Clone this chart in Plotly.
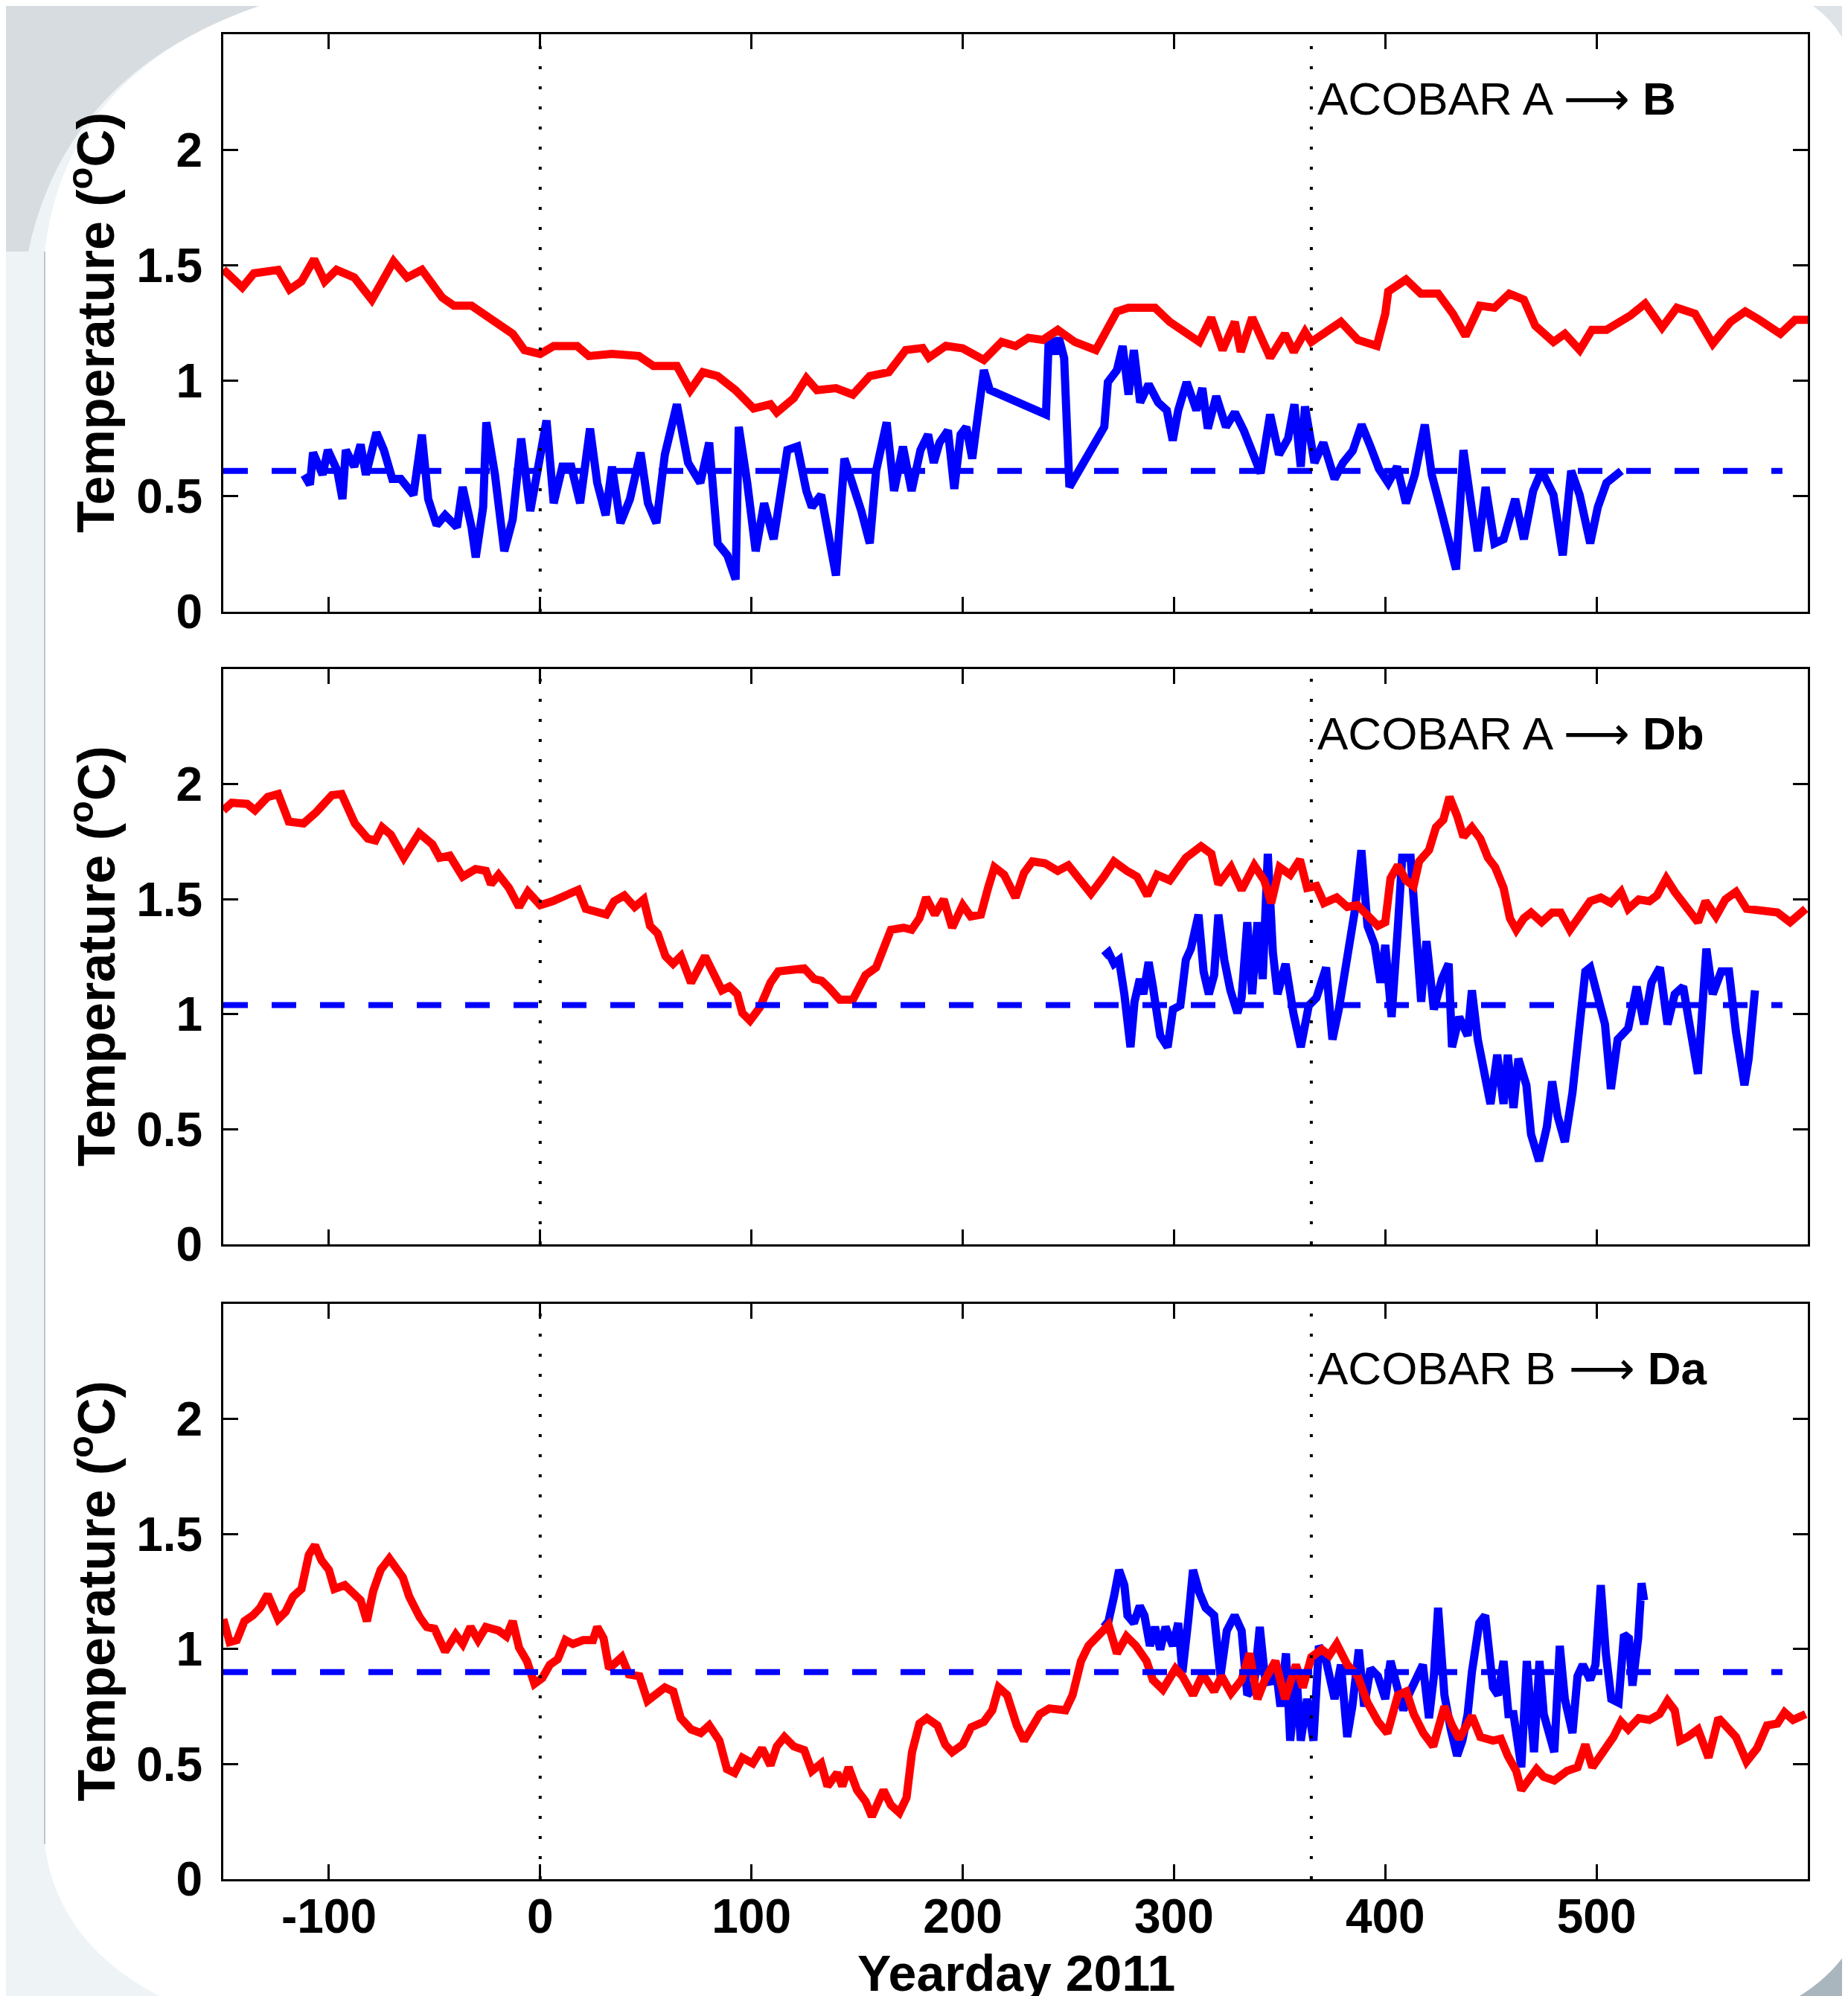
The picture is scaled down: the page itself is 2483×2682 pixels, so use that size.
import plotly.graph_objects as go

# ---------------- data ----------------
P1_RED_X = [-150,-141,-135.5,-124,-118.6,-113,-107,-102,-96.4,-88,-79.7,-69.4,-63,-56,-46.4,-40.8,-32.5,-27,-21.4,-13,-7.5,0,6.4,17.5,23,34,46.7,53.6,64.7,71,77,84,92.5,101,109,112,120,126,131,140,148,156,165,173,181,184,192,200,210,218.4,225,231,238,245,253,263,273,278.5,291,298,303.6,312,317.6,323,328.8,331.6,337,345.5,352.5,356.7,362,365,379,387,396,400,401.4,409.8,416.8,425,432,438,444.7,451.7,458.7,465.6,471,479.6,485,492,497.8,504.7,516,523,531,538,546.6,555,563.4,570.4,577,587,594,600]
P1_RED_Y = [1.482,1.404,1.465,1.48,1.395,1.43,1.526,1.43,1.48,1.447,1.35,1.517,1.447,1.48,1.36,1.325,1.325,1.29,1.255,1.203,1.133,1.116,1.15,1.15,1.107,1.116,1.107,1.064,1.064,0.959,1.037,1.02,0.959,0.88,0.898,0.863,0.924,1.011,0.959,0.968,0.94,1.02,1.037,1.133,1.142,1.1,1.151,1.14,1.09,1.168,1.15,1.186,1.177,1.22,1.168,1.133,1.30,1.316,1.316,1.255,1.22,1.168,1.273,1.133,1.255,1.125,1.273,1.10,1.203,1.125,1.212,1.168,1.255,1.177,1.151,1.29,1.386,1.438,1.377,1.377,1.29,1.194,1.325,1.316,1.377,1.351,1.238,1.168,1.203,1.133,1.22,1.22,1.282,1.334,1.23,1.316,1.29,1.16,1.255,1.30,1.264,1.203,1.264,1.264]

P1_BLUE_X = [-111.7,-109,-107.5,-103,-100.5,-96,-93.6,-92,-88,-85,-82.5,-77.5,-74,-70,-66,-60,-56,-53,-49,-45,-39.4,-36.7,-32.5,-30.5,-27,-25.5,-21.4,-17,-13,-9,-4.7,0.8,3,6.4,10.5,14.7,18.9,23.6,27,31,34,38,42.5,47.5,51,55,59,64.7,70,75.8,80,84,88.6,92.5,94,98,102,106,110.5,117,121.7,126,128.6,133,137,140,144,148,152,156,159,164,167.5,171.7,175.8,180,183.6,186.3,189,193,196,199,201.7,204.5,207,210,212.8,239.4,240.8,243.6,245.5,248,250.5,267,268.7,273,275.7,278.5,281,284,288,292.5,296.6,299.4,302,306,310.6,313.4,316,320,324.6,328.8,333,337,341,345.5,349.7,354,357,360,362,366.5,370.7,376,380,384.6,388.8,393,397,401.4,405.6,409.8,414,418.7,422,426.5,430.7,433.5,437,440.5,443.8,447.5,451.7,456,461.5,465.6,470,474,479.6,484,488,492,497,500.6,504.7,511.7]
P1_BLUE_Y = [0.593,0.55,0.689,0.593,0.70,0.61,0.488,0.70,0.628,0.724,0.593,0.776,0.70,0.575,0.575,0.506,0.767,0.488,0.375,0.418,0.366,0.54,0.366,0.235,0.453,0.82,0.593,0.262,0.40,0.75,0.436,0.732,0.828,0.47,0.628,0.628,0.47,0.793,0.558,0.418,0.628,0.384,0.488,0.689,0.47,0.384,0.68,0.898,0.645,0.558,0.732,0.296,0.244,0.14,0.80,0.558,0.262,0.47,0.314,0.70,0.715,0.523,0.453,0.506,0.331,0.157,0.663,0.558,0.436,0.296,0.61,0.82,0.523,0.715,0.523,0.70,0.767,0.645,0.732,0.785,0.532,0.767,0.80,0.663,0.872,1.046,0.96,0.854,1.203,1.116,1.186,1.098,0.54,0.80,0.994,1.046,1.15,0.94,1.133,0.906,0.985,0.906,0.872,0.741,0.872,0.994,0.872,0.968,0.793,0.933,0.80,0.863,0.785,0.697,0.60,0.854,0.68,0.75,0.898,0.628,0.889,0.645,0.732,0.575,0.645,0.697,0.81,0.715,0.619,0.558,0.628,0.47,0.593,0.81,0.593,0.436,0.296,0.183,0.70,0.453,0.262,0.54,0.296,0.314,0.488,0.314,0.523,0.61,0.506,0.244,0.61,0.506,0.296,0.453,0.558,0.61]

P2_RED_X = [-150,-146,-138.7,-135,-129,-124,-119,-112,-106,-98.6,-94,-87.7,-81.6,-78,-74.8,-70.7,-64.6,-57.3,-51,-47.6,-42.8,-36.7,-30.6,-25.7,-23.3,-19.7,-14.8,-10,-5.8,0,5.8,13,18,21.6,31.3,35,39.8,44.7,49,52,55.6,59.3,62.9,66.6,71.4,78,82,86,89.6,93.3,95.7,99.3,104,109,112.7,120,125,129.7,133.3,137,141.8,148,154,159,162.5,166,172,175.8,179.5,182.7,186.8,191,195,200,203.8,208.6,212,215,219.6,225,229,233,239,245,250,256,260.7,266.8,271.6,277.7,282.5,287.4,292,298,302,305.6,312.8,317.7,321,327,332,338,342.7,346,350,355,359.6,363,367.4,371,377,382,386.8,391.6,396.5,400,402.5,406,409.8,413.4,416,420.7,424,427.5,430.4,434,437,441,445,448.6,452,456,459,462,465.6,469,474,479,483,487.4,492,497,502,506.8,511.6,515,520,525,528.6,533,537,542,548,551.6,556.5,561,566,571,578,585.6,591.6,599]
P2_RED_Y = [1.886,1.919,1.914,1.886,1.944,1.957,1.837,1.829,1.878,1.952,1.957,1.829,1.763,1.755,1.812,1.78,1.68,1.787,1.738,1.68,1.689,1.598,1.631,1.623,1.565,1.606,1.549,1.466,1.532,1.474,1.491,1.516,1.54,1.458,1.433,1.491,1.516,1.466,1.499,1.384,1.351,1.252,1.219,1.252,1.137,1.252,1.17,1.104,1.12,1.087,1.005,0.972,1.03,1.137,1.186,1.194,1.199,1.153,1.145,1.112,1.063,1.063,1.17,1.203,1.285,1.367,1.376,1.367,1.417,1.507,1.433,1.499,1.376,1.474,1.425,1.433,1.549,1.639,1.606,1.507,1.614,1.664,1.656,1.623,1.647,1.582,1.524,1.598,1.664,1.623,1.598,1.516,1.606,1.582,1.631,1.68,1.73,1.697,1.565,1.639,1.54,1.647,1.582,1.483,1.639,1.606,1.672,1.549,1.557,1.483,1.507,1.466,1.474,1.433,1.384,1.40,1.59,1.647,1.582,1.557,1.664,1.713,1.812,1.845,1.944,1.862,1.771,1.812,1.763,1.68,1.639,1.549,1.417,1.367,1.417,1.442,1.40,1.442,1.442,1.367,1.433,1.491,1.507,1.483,1.532,1.458,1.499,1.491,1.516,1.59,1.532,1.466,1.40,1.491,1.425,1.499,1.532,1.458,1.45,1.442,1.40,1.458]

P2_BLUE_X = [266.8,269,271.6,274,276.5,279.4,281.3,283.8,285.5,288,290,293.5,297,299.5,303,305.6,308,311.6,314,316.5,319,321,323.8,326.7,330,332,334.7,337,339.5,342,344.4,346.8,349,352.8,356.5,360,363.8,367.4,372,375,378,381.9,385.6,388.7,391.6,395,397.7,400,403,406,408,412,414.7,417,419.5,423,426.8,430,431.6,435,439,441,443.8,447,449.8,453,456,458,460.7,463,466.8,469,472.8,476.5,479,481.5,485,488.6,491,494.7,497,500.7,504,506.8,510,515,519,522.5,526,530,533.6,537,541,544,548,552,555,559,562.7,566,570,572,575]
P2_BLUE_Y = [1.252,1.269,1.219,1.236,1.087,0.857,1.054,1.153,1.087,1.227,1.12,0.906,0.857,1.021,1.038,1.236,1.285,1.433,1.186,1.087,1.17,1.433,1.236,1.104,1.005,1.071,1.40,1.087,1.40,1.153,1.697,1.269,1.087,1.219,1.005,0.857,1.038,1.071,1.203,0.89,1.021,1.219,1.45,1.713,1.384,1.301,1.137,1.301,0.988,1.384,1.68,1.68,1.384,1.054,1.318,1.021,1.153,1.219,0.857,0.988,0.906,1.104,0.89,0.725,0.61,0.824,0.61,0.824,0.593,0.807,0.692,0.478,0.362,0.511,0.708,0.56,0.445,0.659,0.89,1.186,1.203,1.087,0.956,0.675,0.89,0.939,1.12,0.956,1.137,1.203,0.956,1.087,1.12,0.956,0.741,1.285,1.087,1.186,1.186,0.923,0.692,0.807,1.104]

P3_RED_X = [-150,-147,-143.6,-140,-136,-132.6,-129,-124,-120.5,-117,-113,-109.5,-106.6,-103.5,-100,-97.4,-92.5,-89,-85,-82,-79,-75.5,-71.4,-65,-62,-57,-53.7,-50,-45,-40,-36.7,-33,-29.4,-25.7,-19.7,-16,-13,-10,-6.3,-2.7,1,4.6,8.3,12,15.5,20.4,25,27,30,32.6,36,38.6,42,47,50.8,55.6,59,63,66.5,71.4,76,80,84.8,88.4,92,95.7,100.6,105,109,112,115.6,120,125,128.6,133,136,140.6,143,146,150,154,157,162.5,166,170,173.4,176,179.5,183,188,191.7,195,200,204,210,214,217,221,225.6,229,233,236.5,241,248.6,252,256,259.5,264,269,273,277.5,282,287,290,294.7,300.7,304,309,313.6,319,322.5,327,332,335.8,339.5,343,348,352.6,357.7,361,365,370,373.5,377,382,387,391.6,396.6,401,406,410,413.5,418,422.7,428,431.6,435,441,445,451,454.7,458,462,464.4,468,471.6,475,480,486,491,494.7,498,503,508,511.6,515,520,525,529.8,533.6,537,539.5,543,548,553,557.7,561,566,571,576,580.7,585.6,589,593,599]
P3_RED_Y = [1.13,1.03,1.039,1.121,1.146,1.179,1.237,1.13,1.162,1.228,1.261,1.41,1.451,1.385,1.344,1.261,1.278,1.245,1.212,1.121,1.253,1.344,1.393,1.311,1.228,1.138,1.096,1.088,0.989,1.063,1.022,1.096,1.039,1.096,1.08,1.055,1.121,1.006,0.948,0.849,0.874,0.932,0.956,1.039,1.022,1.039,1.039,1.096,1.047,0.915,0.94,0.965,0.89,0.882,0.775,0.816,0.833,0.816,0.70,0.651,0.635,0.668,0.602,0.478,0.462,0.528,0.503,0.569,0.495,0.577,0.618,0.577,0.561,0.47,0.503,0.404,0.462,0.404,0.486,0.387,0.338,0.272,0.387,0.322,0.289,0.354,0.552,0.676,0.70,0.668,0.585,0.552,0.585,0.66,0.684,0.734,0.833,0.80,0.668,0.602,0.668,0.717,0.742,0.734,0.80,0.948,1.014,1.063,1.105,0.981,1.055,1.014,0.948,0.866,0.824,0.915,0.882,0.80,0.89,0.816,0.882,0.808,0.866,0.981,0.783,0.866,0.948,0.783,0.932,0.833,0.965,0.998,0.973,1.022,0.932,0.882,0.767,0.684,0.635,0.80,0.816,0.717,0.635,0.577,0.75,0.668,0.61,0.709,0.618,0.602,0.61,0.536,0.47,0.387,0.437,0.478,0.445,0.429,0.47,0.486,0.585,0.486,0.552,0.618,0.684,0.651,0.70,0.692,0.717,0.775,0.734,0.602,0.618,0.651,0.528,0.70,0.668,0.618,0.511,0.569,0.668,0.676,0.725,0.692,0.717]

P3_BLUE_X = [266.8,269,271.6,274,276.5,278,281,283.8,286,288.6,291,293.5,296,299.5,302,304,306.8,309,312,315,319,322,325,328.7,332,334.7,337.8,340.6,343,345.6,348,350.4,353,355,358,360,363,366,368.6,372,376,379,382,384.4,387.5,390,393,396.5,400,402.5,405.7,408.6,411,414.7,417.8,420.7,423,425,428,431,434,436.5,439,441,444.5,447.3,451,453.4,456,458.3,460.7,464.4,467,470.4,473,475,477.6,480,482.6,485,488.6,491,493.5,497,499.5,502,504.4,507,510.4,513,515.3,517,519.7,521.3,522.5]
P3_BLUE_Y = [1.096,1.121,1.228,1.344,1.278,1.146,1.113,1.187,1.146,1.014,1.096,0.998,1.096,1.014,1.113,0.899,1.13,1.344,1.245,1.179,1.146,0.882,1.08,1.146,1.08,0.80,0.833,1.096,0.882,0.849,0.932,0.75,0.981,0.602,0.882,0.602,0.783,0.602,1.014,0.948,0.783,0.932,0.618,0.75,0.998,0.75,0.915,0.882,0.783,0.948,0.833,0.734,0.80,0.882,0.932,0.70,0.882,1.179,0.80,0.651,0.536,0.602,0.717,0.899,1.113,1.146,0.833,0.80,0.948,0.717,0.717,0.486,0.948,0.552,0.948,0.717,0.635,0.552,1.014,0.783,0.635,0.882,0.932,0.866,0.932,1.278,0.981,0.783,0.767,1.063,1.047,0.841,1.047,1.286,1.212]

MEAN_LEVELS = [0.61, 1.04, 0.90]          # blue dashed reference levels
MEAN_SPAN = [-150, 588]                  # x extent of the dashed lines
YEAR_MARKS = [0, 365]                    # dotted vertical lines
ARROW = '<span style="font-family:DejaVu Sans">\u27f6</span>'
PANEL_LABELS = ["ACOBAR A " + ARROW + " <b>B</b>",
                "ACOBAR A " + ARROW + " <b>Db</b>",
                "ACOBAR B " + ARROW + " <b>Da</b>"]
X_TICKS = [-100, 0, 100, 200, 300, 400, 500]
X_TICK_TEXT = ["-100", "0", "100", "200", "300", "400", "500"]
Y_TICKS = [0, 0.5, 1, 1.5, 2]
Y_TICK_TEXT = ["0", "0.5", "1", "1.5", "2"]

# ---------------- figure ----------------
W, H = 2483, 2682
ML, MR, MT, MB = 292, 62, 38, 165
PW, PH = W - ML - MR, H - MT - MB

def px(X):
    return (X - ML) / PW

def py(Y):
    return (H - MB - Y) / PH

FONT = "Liberation Sans, Arial, Helvetica, sans-serif"
RED = "#ff0000"
BLUE = "#0000ff"

panels = [
    (P1_RED_X, P1_RED_Y, P1_BLUE_X, P1_BLUE_Y),
    (P2_RED_X, P2_RED_Y, P2_BLUE_X, P2_BLUE_Y),
    (P3_RED_X, P3_RED_Y, P3_BLUE_X, P3_BLUE_Y),
]
domains = [(py(814), py(38)), (py(1664), py(891)), (py(2517), py(1744))]

fig = go.Figure()
layout = dict(
    width=W, height=H,
    margin=dict(l=ML, r=MR, t=MT, b=MB, pad=0),
    paper_bgcolor="#eef3f6",
    plot_bgcolor="white",
    showlegend=False,
    font=dict(family=FONT, color="black"),
)

annotations = []
shapes = []

# background decoration (slide frame)
def path_px(cmds):
    out = []
    for c in cmds:
        if isinstance(c, str):
            out.append(c)
        else:
            out.append("%.5f,%.5f" % (px(c[0]), py(c[1])))
    return " ".join(out)

white_path = path_px(["M", (340, 0), "Q", (80, 90), (52, 330), "L", (52, 2470),
                      "Q", (70, 2610), (222, 2682), "L", (2396, 2682),
                      "Q", (2455, 2650), (2483, 2599), "L", (2483, 77),
                      "Q", (2465, 25), (2428, 0), "Z"])
shapes.append(dict(type="path", xref="paper", yref="paper", path=white_path,
                   fillcolor="white", line=dict(width=0), layer="below"))
tl_path = path_px(["M", (0, 0), "L", (340, 0), "Q", (80, 90), (30, 330), "L", (0, 330), "Z"])
shapes.append(dict(type="path", xref="paper", yref="paper", path=tl_path,
                   fillcolor="#d6dce0", line=dict(width=0), layer="below"))
br_path = path_px(["M", (2396, 2682), "Q", (2455, 2650), (2483, 2599), "L", (2483, 2682), "Z"])
shapes.append(dict(type="path", xref="paper", yref="paper", path=br_path,
                   fillcolor="#aab6be", line=dict(width=0), layer="below"))
tr_path = path_px(["M", (2428, 0), "Q", (2465, 25), (2483, 77), "L", (2483, 0), "Z"])
shapes.append(dict(type="path", xref="paper", yref="paper", path=tr_path,
                   fillcolor="#dde3e7", line=dict(width=0), layer="below"))
shapes.append(dict(type="line", xref="paper", yref="paper",
                   x0=px(52), x1=px(52), y0=py(330), y1=py(2470),
                   line=dict(color="#c0c6ca", width=2), layer="below"))

for i, (rx, ry, bx, by) in enumerate(panels):
    n = "" if i == 0 else str(i + 1)
    xa, ya = "x" + n, "y" + n
    # blue series
    fig.add_trace(go.Scatter(x=bx, y=by, mode="lines", xaxis=xa, yaxis=ya,
                             line=dict(color=BLUE, width=11), hoverinfo="skip"))
    # red series
    fig.add_trace(go.Scatter(x=rx, y=ry, mode="lines", xaxis=xa, yaxis=ya,
                             line=dict(color=RED, width=11), hoverinfo="skip"))
    # dashed mean
    fig.add_trace(go.Scatter(x=MEAN_SPAN, y=[MEAN_LEVELS[i]] * 2, mode="lines",
                             xaxis=xa, yaxis=ya,
                             line=dict(color=BLUE, width=8, dash="33px,32px"),
                             hoverinfo="skip"))
    for xm in YEAR_MARKS:
        shapes.append(dict(type="line", xref=xa, yref=ya + " domain",
                           x0=xm, x1=xm, y0=0, y1=1,
                           line=dict(color="black", width=4, dash="4px,23px")))
    axis_common = dict(showline=True, linecolor="black", linewidth=3,
                       mirror="ticks", ticks="inside", ticklen=20, tickwidth=3,
                       tickcolor="black", showgrid=False, zeroline=False)
    layout["xaxis" + n] = dict(axis_common, anchor=ya, domain=[0, 1],
                               range=[-150, 600], tickvals=X_TICKS,
                               ticktext=X_TICK_TEXT,
                               showticklabels=(i == 2),
                               tickfont=dict(family=FONT, size=64, weight="bold"),
                               ticklabelstandoff=-8)
    layout["yaxis" + n] = dict(axis_common, anchor=xa, domain=list(domains[i]),
                               range=[0, 2.5], tickvals=Y_TICKS,
                               ticktext=Y_TICK_TEXT,
                               tickfont=dict(family=FONT, size=64, weight="bold"),
                               ticklabelstandoff=12)
    d0, d1 = domains[i]
    annotations.append(dict(text="<b>Temperature (<sup>o</sup>C)</b>", xref="paper", yref="paper",
                            x=px(116), y=(d0 + d1) / 2, textangle=-90,
                            xanchor="center", yanchor="middle", showarrow=False,
                            font=dict(family=FONT, size=70, color="black")))
    annotations.append(dict(text=PANEL_LABELS[i], xref=xa, yref=ya,
                            x=367, y=2.22, xanchor="left", yanchor="middle",
                            showarrow=False,
                            font=dict(family=FONT, size=62, color="black")))

annotations.append(dict(text="<b>Yearday 2011</b>", xref="paper", yref="paper",
                        x=px(1357), y=py(2643), xanchor="center", yanchor="middle",
                        showarrow=False, font=dict(family=FONT, size=68, color="black")))

layout["annotations"] = annotations
layout["shapes"] = shapes
fig.update_layout(**layout)
fig.write_html("out.html")
